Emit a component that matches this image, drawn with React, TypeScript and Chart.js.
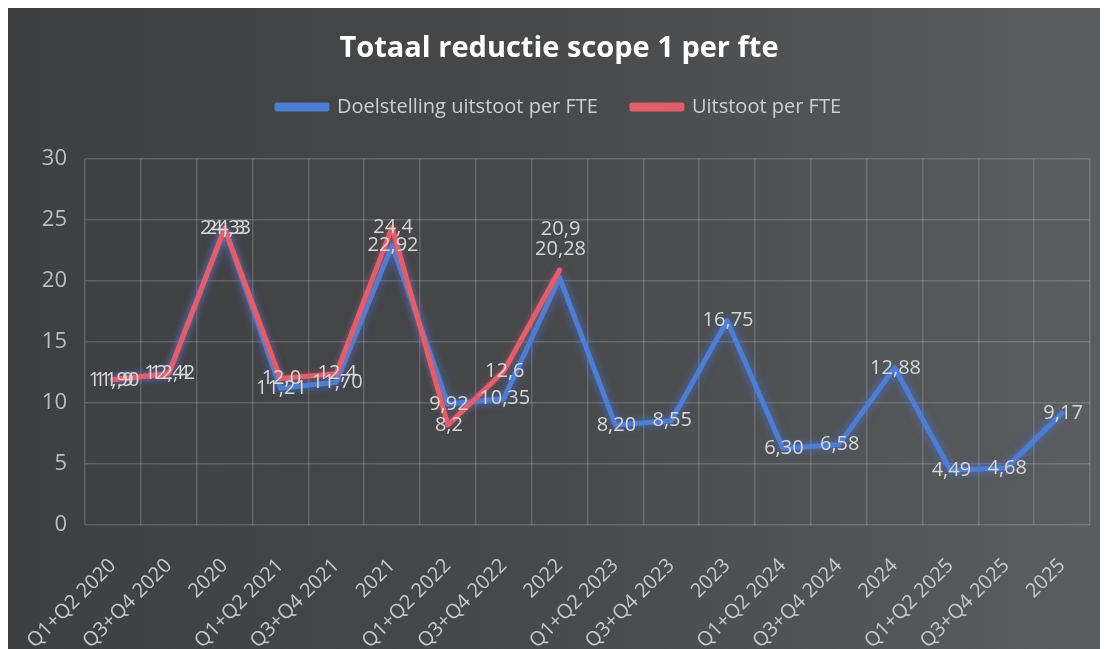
import React, { useEffect, useRef } from "react";
import { Chart, registerables } from "chart.js";

Chart.register(...registerables);

const categories = [
  "Q1+Q2 2020", "Q3+Q4 2020", "2020",
  "Q1+Q2 2021", "Q3+Q4 2021", "2021",
  "Q1+Q2 2022", "Q3+Q4 2022", "2022",
  "Q1+Q2 2023", "Q3+Q4 2023", "2023",
  "Q1+Q2 2024", "Q3+Q4 2024", "2024",
  "Q1+Q2 2025", "Q3+Q4 2025", "2025",
];

const doelstelling = [
  11.9, 12.42, 24.33, 11.21, 11.7, 22.92, 9.92, 10.35, 20.28,
  8.2, 8.55, 16.75, 6.3, 6.58, 12.88, 4.49, 4.68, 9.17,
];

const uitstoot: (number | null)[] = [
  11.9, 12.4, 24.3, 12.0, 12.4, 24.4, 8.2, 12.6, 20.9,
  null, null, null, null, null, null, null, null, null,
];

const yTickValues = [0, 5, 10, 15, 20, 25, 30];

const seriesNames = ["Doelstelling uitstoot per FTE", "Uitstoot per FTE"];
const labelDecimals = [2, 1];

// vertical label nudges (pixels) for the two manually moved 2022 labels
const labelNudgeDoel: Record<number, number> = { 8: -28 };
const labelNudgeUit: Record<number, number> = { 8: -41 };
const labelNudges = [labelNudgeDoel, labelNudgeUit];

const FONT = '"Open Sans", "DejaVu Sans", sans-serif';

const backgroundPlugin = {
  id: "bgFill",
  beforeDraw(chart: any) {
    const { ctx, width, height } = chart;
    ctx.save();
    const g = ctx.createLinearGradient(0, 0, width, 0);
    g.addColorStop(0, "#3d3f41");
    g.addColorStop(0.5, "#48494b");
    g.addColorStop(1, "#5b5d5f");
    ctx.fillStyle = g;
    ctx.fillRect(0, 0, width, height);
    ctx.restore();
  },
};

const glowPlugin = {
  id: "lineGlow",
  beforeDatasetDraw(chart: any, args: any) {
    const ctx = chart.ctx;
    ctx.save();
    ctx.shadowColor = args.index === 0 ? "rgba(70,120,235,0.85)" : "rgba(230,90,110,0.5)";
    ctx.shadowBlur = args.index === 0 ? 10 : 6;
  },
  afterDatasetDraw(chart: any) {
    chart.ctx.restore();
  },
};

const valueLabelPlugin = {
  id: "valueLabels",
  afterDatasetsDraw(chart: any) {
    const ctx = chart.ctx;
    ctx.save();
    ctx.font = `20px ${FONT}`;
    ctx.fillStyle = "#d6d6d6";
    ctx.textAlign = "center";
    ctx.textBaseline = "middle";
    chart.data.datasets.forEach((ds: any, i: number) => {
      const meta = chart.getDatasetMeta(i);
      const nudges = labelNudges[i] || {};
      meta.data.forEach((pt: any, j: number) => {
        const v = ds.data[j];
        if (v === null || v === undefined) return;
        const txt = Number(v).toFixed(labelDecimals[i]).replace(".", ",");
        const dy = nudges[j] || 0;
        const x = Number(pt.x);
        const y = Number(pt.y);
        if (!isFinite(x) || !isFinite(y)) return;
        ctx.fillText(txt, x + 1, y + dy);
      });
    });
    ctx.restore();
  },
};

export default function App() {
  const canvasRef = useRef<HTMLCanvasElement | null>(null);

  useEffect(() => {
    document.documentElement.style.overflow = "hidden";
    const canvas = canvasRef.current;
    if (!canvas) return;
    Chart.defaults.font.family = FONT;

    const chart = new Chart(canvas, {
      type: "line",
      data: {
        labels: categories,
        datasets: [
          {
            label: seriesNames[0],
            data: doelstelling,
            xAxisID: "x",
            yAxisID: "y",
            borderColor: "#4d7ed2",
            backgroundColor: "#4d7ed2",
            borderWidth: 5,
            pointRadius: 0,
            tension: 0,
            borderCapStyle: "round",
            borderJoinStyle: "round",
            order: 1,
          },
          {
            label: seriesNames[1],
            data: uitstoot,
            xAxisID: "x",
            yAxisID: "y",
            borderColor: "#e15f6c",
            backgroundColor: "#e15f6c",
            borderWidth: 5,
            pointRadius: 0,
            tension: 0,
            spanGaps: false,
            borderCapStyle: "round",
            borderJoinStyle: "round",
            order: 0,
          },
        ],
      },
      options: {
        animation: false,
        responsive: true,
        maintainAspectRatio: false,
        layout: { padding: { top: 0, left: 20, right: 18, bottom: 0 } },
        plugins: {
          title: {
            display: true,
            text: "Totaal reductie scope 1 per fte",
            color: "#ffffff",
            font: { size: 29, weight: "bold", family: FONT, lineHeight: 1.0 },
            padding: { top: 26, bottom: 0 },
          },
          legend: {
            display: true,
            position: "top",
            labels: {
              color: "#cfcfcf",
              font: { size: 20, family: FONT },
              boxWidth: 50,
              boxHeight: 4,
              padding: 34,
              sort: (a: any, b: any) => a.datasetIndex - b.datasetIndex,
            },
          },
          tooltip: { enabled: false },
        } as any,
        scales: {
          x: {
            type: "category",
            offset: true,
            grid: {
              offset: true,
              color: "rgba(215,215,215,0.22)",
              lineWidth: 1.5,
              drawTicks: false,
            },
            border: { display: false },
            ticks: {
              color: "#c9c9c9",
              font: { size: 20, family: FONT },
              maxRotation: 45,
              minRotation: 45,
              padding: 29,
              autoSkip: false,
            },
            afterFit: (s: any) => {
              s.height = 124;
              s.paddingLeft = 0;
              s.paddingRight = 0;
            },
          },
          spacer: {
            type: "category",
            position: "top",
            axis: "x",
            offset: true,
            display: true,
            grid: { display: false },
            border: { display: false },
            ticks: { display: false },
            afterFit: (s: any) => {
              s.height = 32;
              s.paddingLeft = 0;
              s.paddingRight = 0;
            },
          },
          y: {
            min: 0,
            max: 30,
            afterBuildTicks: (s: any) => {
              s.ticks = yTickValues.map((v) => ({ value: v }));
            },
            grid: {
              color: "rgba(215,215,215,0.22)",
              lineWidth: 1.5,
              drawTicks: false,
            },
            border: { display: false },
            ticks: {
              color: "#bdbdbd",
              font: { size: 22, family: FONT },
              padding: 18,
            },
            afterFit: (s: any) => {
              s.width = 57;
            },
          },
        } as any,
      },
      plugins: [backgroundPlugin, glowPlugin, valueLabelPlugin],
    } as any);

    return () => {
      chart.destroy();
    };
  }, []);

  return (
    <div style={{ width: 1100, height: 641, position: "relative" }}>
      <canvas ref={canvasRef} />
    </div>
  );
}
